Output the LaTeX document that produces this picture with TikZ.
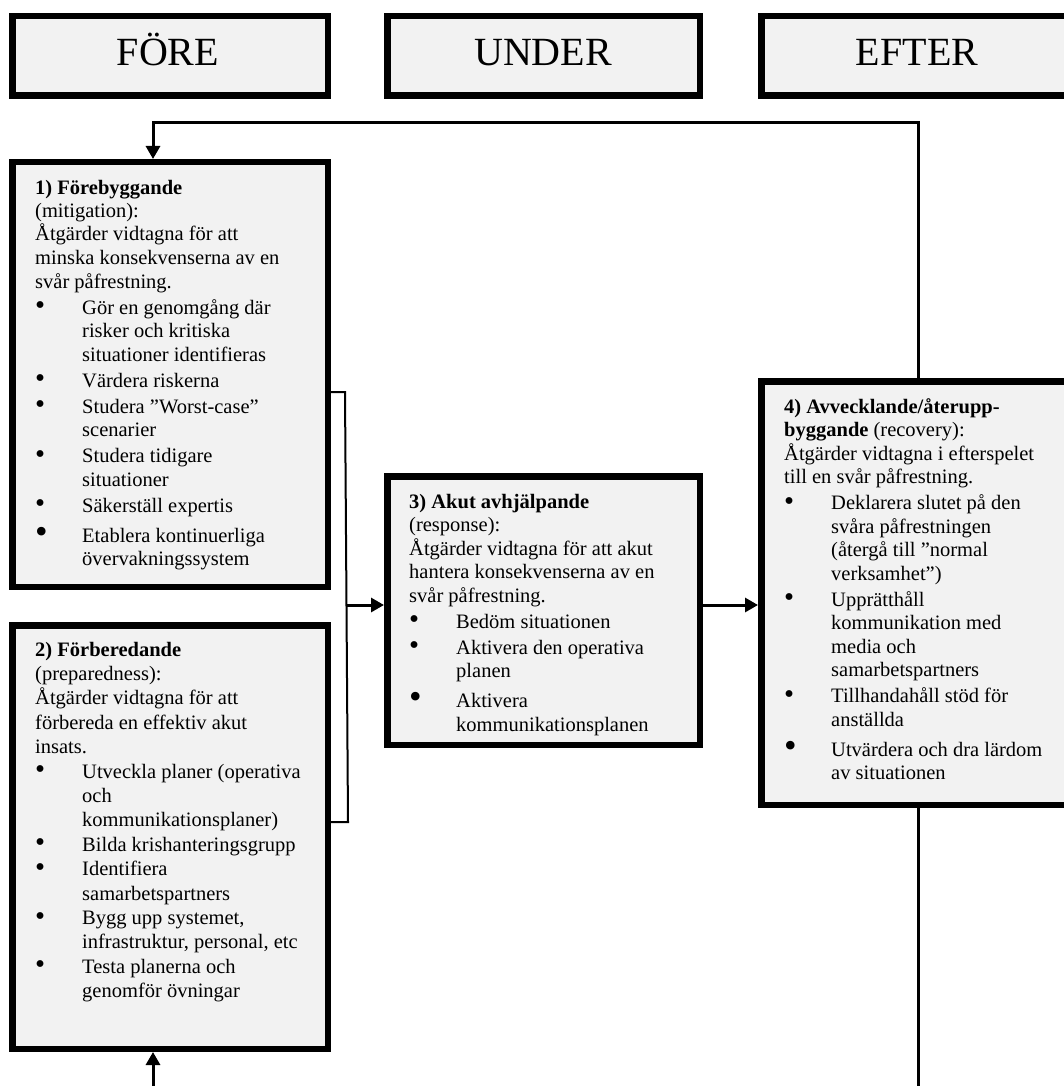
\documentclass[tikz,border=0pt]{standalone}
\usepackage{fontspec}
\setmainfont{Liberation Serif}
\usepackage{graphicx}
\usetikzlibrary{arrows.meta}
\definecolor{boxgray}{RGB}{242,242,242}
\newdimen\itskip
\newcommand\bodytext[3]{\vtop{\hsize=420pt\parindent=0pt\parskip=0pt\rightskip=0pt plus 1fil\parfillskip=0pt plus 1fil\fontsize{20.5}{#1}\selectfont\itskip=#2\noindent #3\par}}
\newcommand\nl{\unskip\break}
\newcommand\bitem[1]{\par\vskip\itskip\hangindent=47pt\hangafter=1\noindent\makebox[47pt][l]{\smash{\raisebox{-0.6pt}{\scalebox{1.4}{\textbullet}}}}#1}
\newcommand\bigitem[1]{\par\vskip\itskip\vskip4pt\hangindent=47pt\hangafter=1\noindent\makebox[47pt][l]{\smash{\raisebox{-1.2pt}{\scalebox{1.75}{\textbullet}}}}#1}
\begin{document}
\begin{tikzpicture}[x=1pt,y=-1pt,
  box/.style={draw=black,line width=6.5pt,fill=boxgray,inner sep=0pt,rectangle},
  head/.style={font=\fontsize{40}{48}\selectfont,inner sep=0pt,anchor=base},
  txt/.style={inner sep=0pt,anchor=base west},
  conn/.style={line width=3pt},
  arr/.style={conn,-{Triangle[length=13pt,width=14pt]}}]
\useasboundingbox (0,0) rectangle (1064,1086);
\clip (0,0) rectangle (1064,1086);
\fill[white] (0,0) rectangle (1064,1086);
% header boxes
\node[box,minimum width=315.5pt,minimum height=79.5pt] (hF) at (170,56) {};
\node[box,minimum width=312.5pt,minimum height=79.5pt] (hU) at (543.5,56) {};
\node[box,minimum width=311.5pt,minimum height=79.5pt] (hE) at (917,56) {};
\node[head] (hFt) at (168,66) {FÖRE};
\node[head] (hUt) at (543,66) {UNDER};
\node[head] (hEt) at (917,66) {EFTER};
% phase boxes
\node[box,minimum width=315.5pt,minimum height=424.5pt] (b1) at (170,374.5) {};
\node[box,minimum width=315.5pt,minimum height=423.5pt] (b2) at (170,837) {};
\node[box,minimum width=312.5pt,minimum height=268.5pt] (b3) at (543.5,610.5) {};
\node[box,minimum width=311.5pt,minimum height=423.5pt] (b4) at (917,593) {};
% texts
\node[txt] (t1) at (35,194) {\bodytext{23.5pt}{2.5pt}{%
\textbf{1) Förebyggande}\nl
(mitigation):\nl
Åtgärder vidtagna för att\nl
minska konsekvenserna av en\nl
svår påfrestning.
\bitem{Gör en genomgång där\nl risker och kritiska\nl situationer identifieras}
\bitem{Värdera riskerna}
\bitem{Studera ”Worst-case”\nl scenarier}
\bitem{Studera tidigare\nl situationer}
\bitem{Säkerställ expertis}
\bigitem{Etablera kontinuerliga\nl övervakningssystem}}};
\node[txt] (t2) at (35,656) {\bodytext{24.4pt}{0pt}{%
\textbf{2) Förberedande}\nl
(preparedness):\nl
Åtgärder vidtagna för att\nl
förbereda en effektiv akut\nl
insats.
\bitem{Utveckla planer (operativa\nl och\nl kommunikationsplaner)}
\bitem{Bilda krishanteringsgrupp}
\bitem{Identifiera\nl samarbetspartners}
\bitem{Bygg upp systemet,\nl infrastruktur, personal, etc}
\bitem{Testa planerna och\nl genomför övningar}}};
\node[txt] (t3) at (409,508) {\bodytext{23.5pt}{2.5pt}{%
\textbf{3) Akut avhjälpande}\nl
(response):\nl
Åtgärder vidtagna för att akut\nl
hantera konsekvenserna av en\nl
svår påfrestning.
\bitem{Bedöm situationen}
\bitem{Aktivera den operativa\nl planen}
\bigitem{Aktivera\nl kommunikationsplanen}}};
\node[txt] (t4) at (784,413) {\bodytext{23.5pt}{2.5pt}{%
\textbf{4) Avvecklande/återupp-}\nl
\textbf{byggande} (recovery):\nl
Åtgärder vidtagna i efterspelet\nl
till en svår påfrestning.
\bitem{Deklarera slutet på den\nl svåra påfrestningen\nl (återgå till ”normal\nl verksamhet”)}
\bitem{Upprätthåll\nl kommunikation med\nl media och\nl samarbetspartners}
\bitem{Tillhandahåll stöd för\nl anställda}
\bigitem{Utvärdera och dra lärdom\nl av situationen}}};
% connectors
\coordinate (loopR) at (918,123);
\coordinate (loopL) at (153,123);
\draw[arr] (b4.north -| loopR) -- (loopR) -- (loopL) -- (loopL |- b1.north);
\coordinate (botL) at (153,1086);
\draw[arr] (botL) -- (botL |- b2.south);
\coordinate (botR) at (918,1086);
\draw[conn] (b4.south -| botR) -- (botR);
\coordinate (brT) at (345,392);
\coordinate (brB) at (348,822);
\draw[line width=2pt] (b1.east |- brT) -- (brT) -- (brB) -- (b2.east |- brB);
\coordinate (midA) at (347,605);
\draw[arr] (midA) -- (b3.west |- midA);
\draw[arr] (b3.east |- midA) -- (b4.west |- midA);
\end{tikzpicture}
\end{document}
